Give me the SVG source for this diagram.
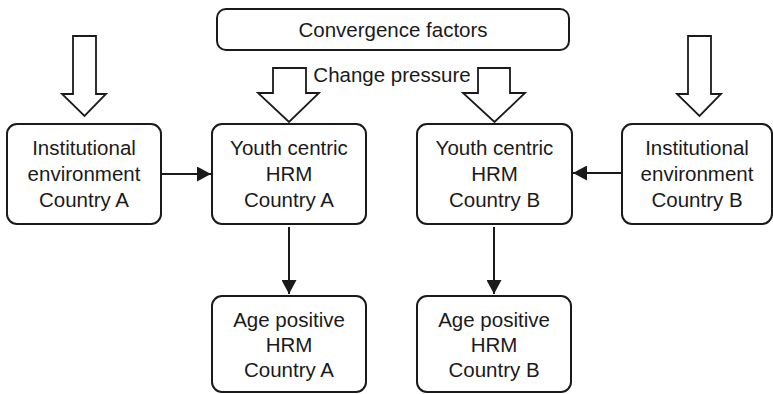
<svg xmlns="http://www.w3.org/2000/svg" width="773" height="394" viewBox="0 0 773 394">
<style>
.box{fill:#fff;stroke:#1a1a1a;stroke-width:2}
.t{font-family:"Liberation Sans",Arial,sans-serif;font-size:20.5px;fill:#1a1a1a;text-anchor:middle}
.lbl{font-family:"Liberation Sans",Arial,sans-serif;font-size:20.5px;fill:#1a1a1a;text-anchor:middle}
.hollow{fill:#fff;stroke:#1a1a1a;stroke-width:1.8;stroke-linejoin:miter}
.conn{stroke:#1a1a1a;stroke-width:2;fill:none}
</style>
<defs>
<marker id="ah" markerWidth="14" markerHeight="15" viewBox="0 0 14 15" refX="14" refY="7.5" orient="auto" markerUnits="userSpaceOnUse">
<path d="M0,0 L14,7.5 L0,15 Z" fill="#1a1a1a"/>
</marker>
</defs>
<g id="convergence">
<rect class="box" x="217" y="9" width="352" height="41" rx="9"/>
<text class="lbl" x="393" y="37">Convergence factors</text>
</g>
<g id="change-pressure">
<text class="lbl" x="392" y="82">Change pressure</text>
</g>
<g id="inst-a">
<rect class="box" x="7" y="124" width="154" height="100" rx="10"/>
<text class="t" x="84" y="155">Institutional</text>
<text class="t" x="84" y="181">environment</text>
<text class="t" x="84" y="207">Country A</text>
</g>
<g id="youth-a">
<rect class="box" x="212" y="124" width="154" height="100" rx="10"/>
<text class="t" x="289" y="155">Youth centric</text>
<text class="t" x="289" y="181">HRM</text>
<text class="t" x="289" y="207">Country A</text>
</g>
<g id="youth-b">
<rect class="box" x="417" y="124" width="155" height="100" rx="10"/>
<text class="t" x="494.5" y="155">Youth centric</text>
<text class="t" x="494.5" y="181">HRM</text>
<text class="t" x="494.5" y="207">Country B</text>
</g>
<g id="inst-b">
<rect class="box" x="622" y="124" width="150" height="100" rx="10"/>
<text class="t" x="697" y="155">Institutional</text>
<text class="t" x="697" y="181">environment</text>
<text class="t" x="697" y="207">Country B</text>
</g>
<g id="age-a">
<rect class="box" x="212" y="296" width="154" height="96" rx="10"/>
<text class="t" x="289" y="327">Age positive</text>
<text class="t" x="289" y="352">HRM</text>
<text class="t" x="289" y="377">Country A</text>
</g>
<g id="age-b">
<rect class="box" x="417" y="296" width="154" height="96" rx="10"/>
<text class="t" x="494" y="327">Age positive</text>
<text class="t" x="494" y="352">HRM</text>
<text class="t" x="494" y="377">Country B</text>
</g>
<g id="connectors">
<polygon class="hollow" points="73,36 96,36 96,94 106,94 84.5,116 62,94 73,94"/>
<polygon class="hollow" points="688,36 711,36 711,94 721,94 699.5,116 677,94 688,94"/>
<polygon class="hollow" points="273,68 306,68 306,93 319,93 289,122 258,93 273,93"/>
<polygon class="hollow" points="478,68 510,68 510,93 525,93 494.5,122 463,93 478,93"/>
<line class="conn" x1="162" y1="174" x2="211" y2="174" marker-end="url(#ah)"/>
<line class="conn" x1="621" y1="173" x2="573" y2="173" marker-end="url(#ah)"/>
<line class="conn" x1="289" y1="227" x2="289" y2="294" marker-end="url(#ah)"/>
<line class="conn" x1="494" y1="227" x2="494" y2="294" marker-end="url(#ah)"/>
</g>
</svg>
